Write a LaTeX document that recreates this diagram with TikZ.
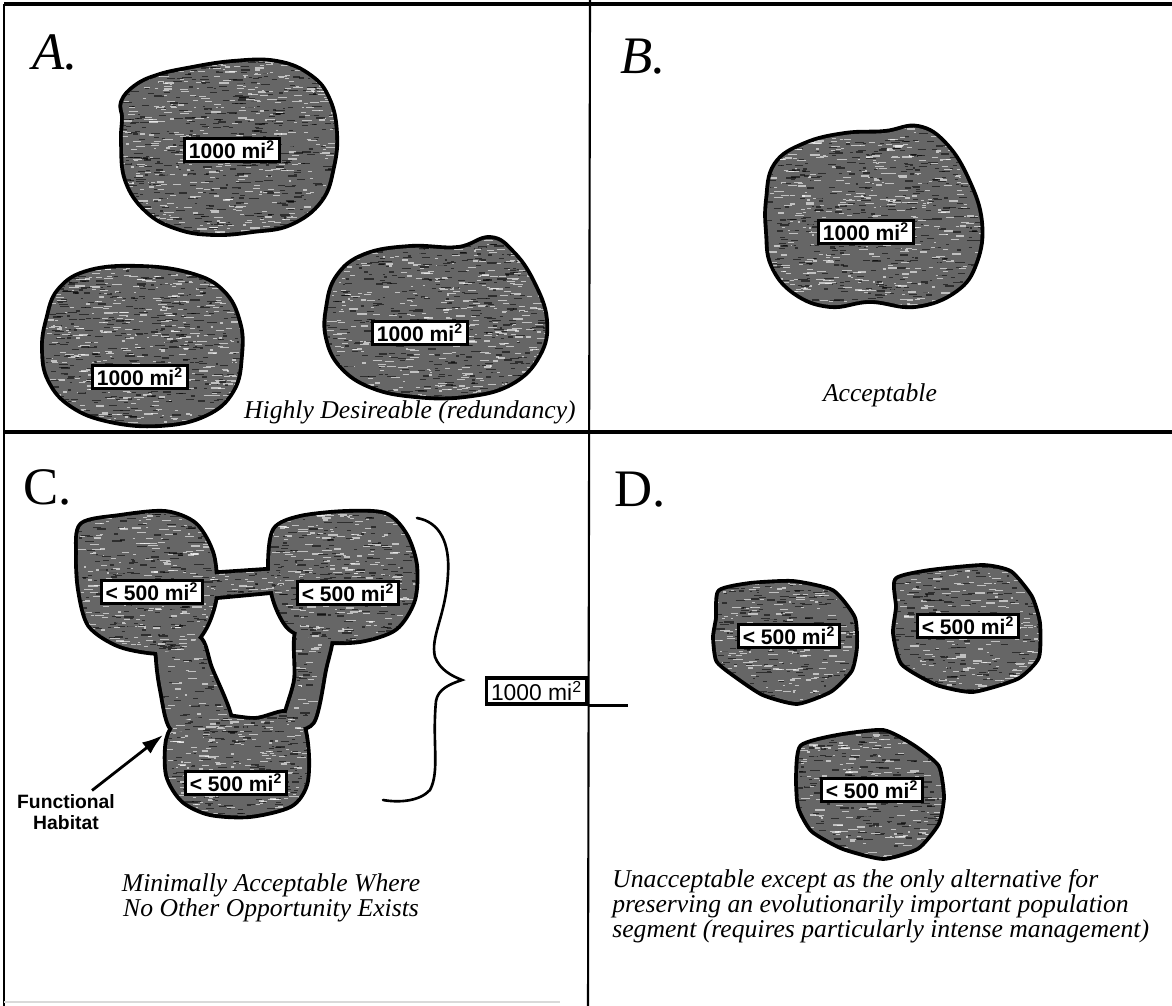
\documentclass[tikz,border=0pt]{standalone}
\usepackage{fontspec}
\setmainfont{Liberation Serif}
\setsansfont{Liberation Sans}
\usetikzlibrary{arrows.meta,calc}
\tikzset{
  thickrule/.style={line width=2.3pt},
  thinrule/.style={line width=1.2pt},
  blobedge/.style={line width=4.4pt, line join=round},
  blobbody/.style={fill=black!60},
  lightgrain/.style={white, opacity=0.6, line width=0.7pt},
  darkgrain/.style={black, opacity=0.55, line width=0.7pt},
  arealabel/.style={draw, line width=1.6pt, fill=white, inner xsep=2.5pt, inner ysep=1.5pt, font=\sffamily\bfseries\fontsize{12}{12}\selectfont},
  extlabel/.style={draw, line width=1.8pt, fill=white, inner xsep=2.5pt, inner ysep=2pt, font=\sffamily\fontsize{13}{13}\selectfont},
  panelletter/.style={font=\fontsize{30}{30}\selectfont, inner sep=0pt},
  captiontext/.style={font=\itshape\fontsize{14.6}{13.2}\selectfont, inner sep=0pt},
  braceline/.style={line width=1.5pt, line cap=round},
  pointer/.style={line width=1.6pt, -{Latex[length=12pt, width=8pt]}},
  smalllabel/.style={font=\sffamily\bfseries\fontsize{11}{11.5}\selectfont, align=center, inner sep=0pt},
}
\newcommand{\grainfill}[5]{%
  \foreach \gk in {1,...,#1}{%
    \pgfmathsetmacro{\grX}{#2+rnd*(#4-#2)}%
    \pgfmathsetmacro{\grY}{#3+rnd*(#5-#3)}%
    \pgfmathsetmacro{\grL}{2+rnd*8}%
    \draw[lightgrain] (\grX,\grY) -- ++(\grL,0);%
  }%
  \foreach \gk in {1,...,#1}{%
    \pgfmathsetmacro{\grX}{#2+rnd*(#4-#2)}%
    \pgfmathsetmacro{\grY}{#3+rnd*(#5-#3)}%
    \pgfmathsetmacro{\grL}{2+rnd*8}%
    \draw[darkgrain] (\grX,\grY) -- ++(\grL,0);%
  }%
}
\newcommand{\blobtexture}[6]{\begin{scope}\clip #1; \grainfill{#2}{#3}{#4}{#5}{#6}\end{scope}}
\begin{document}
\begin{tikzpicture}[x=0.02cm,y=-0.02cm]
\useasboundingbox (0,0) rectangle (1172,1006);
\fill[white] (0,0) rectangle (1172,1006);
\pgfmathsetseed{4242}

% ---------- shapes ----------
\def\shAa{plot[smooth cycle,tension=.7] coordinates {(123,102) (136,87) (157,77) (187,70) (233,63) (277,63) (310,77) (328,100) (335,133) (332,167) (320,200) (290,223) (253,230) (213,233) (177,227) (147,210) (127,180) (123,143) (124,118)}}
\def\shAb{plot[smooth cycle,tension=.7] coordinates {(48,320) (60,290) (90,272) (140,268) (190,275) (222,292) (238,322) (240,355) (232,390) (205,414) (160,424) (110,420) (72,405) (50,380) (44,350)}}
\def\shAc{plot[smooth cycle,tension=.7] coordinates {(328,308) (338,277) (365,256) (410,248) (458,249) (490,239) (512,253) (532,282) (545,320) (538,355) (510,383) (465,395) (415,395) (372,386) (342,366) (328,338)}}
\def\shB{plot[smooth cycle,tension=.7] coordinates {(768,200) (776,165) (805,145) (845,135) (885,133) (918,128) (945,145) (967,180) (980,222) (975,262) (955,290) (915,305) (870,300) (830,305) (795,292) (773,265) (768,232)}}
\def\shCa{plot[smooth cycle,tension=.5] coordinates {(82,525) (120,517) (165,513) (195,525) (212,555) (215,595) (206,625) (190,645) (160,652) (120,645) (90,625) (80,590) (78,555)}}
\def\shCb{plot[smooth cycle,tension=.5] coordinates {(275,530) (300,518) (345,513) (385,515) (405,535) (415,565) (413,600) (395,628) (360,640) (320,640) (290,628) (275,600) (270,565)}}
\def\shCbar{plot[sharp cycle] coordinates {(205,575) (280,570) (282,590) (207,597)}}
\def\shCl{plot[smooth cycle,tension=.5] coordinates {(160,640) (198,638) (210,668) (230,722) (200,730) (172,728) (162,690) (158,660)}}
\def\shCr{plot[smooth cycle,tension=.5] coordinates {(298,630) (330,632) (324,670) (312,722) (285,725) (296,680)}}
\def\shCc{plot[smooth cycle,tension=.5] coordinates {(168,740) (180,722) (215,716) (255,720) (285,713) (302,725) (307,755) (305,785) (290,805) (250,815) (210,813) (183,800) (168,775)}}
\def\shDa{plot[smooth cycle,tension=.35] coordinates {(720,592) (750,585) (793,583) (832,592) (853,618) (855,647) (850,670) (830,690) (797,702) (763,693) (733,673) (718,660) (715,637) (718,618)}}
\def\shDb{plot[smooth cycle,tension=.35] coordinates {(897,580) (930,572) (983,567) (1010,573) (1030,597) (1038,623) (1037,657) (1017,677) (973,690) (937,683) (903,663) (895,633) (898,607)}}
\def\shDc{plot[smooth cycle,tension=.35] coordinates {(802,747) (837,737) (883,732) (913,747) (937,767) (942,797) (937,823) (917,847) (883,857) (843,847) (813,830) (800,807) (798,777)}}

\foreach \s in {\shAa,\shAb,\shAc,\shB,\shCa,\shCb,\shCbar,\shCl,\shCr,\shCc,\shDa,\shDb,\shDc}{\draw[blobedge] \s;}
\foreach \s in {\shAa,\shAb,\shAc,\shB,\shCa,\shCb,\shCbar,\shCl,\shCr,\shCc,\shDa,\shDb,\shDc}{\fill[blobbody] \s;}

\blobtexture{\shAa}{500}{118}{60}{338}{235}
\blobtexture{\shAb}{440}{42}{266}{242}{426}
\blobtexture{\shAc}{440}{325}{236}{547}{397}
\blobtexture{\shB}{480}{766}{126}{982}{307}
\blobtexture{\shCa}{230}{76}{511}{217}{654}
\blobtexture{\shCb}{230}{268}{511}{417}{642}
\blobtexture{\shCbar}{30}{205}{568}{284}{599}
\blobtexture{\shCl}{40}{156}{636}{232}{732}
\blobtexture{\shCr}{30}{283}{628}{332}{727}
\blobtexture{\shCc}{200}{166}{711}{309}{817}
\blobtexture{\shDa}{200}{713}{581}{857}{704}
\blobtexture{\shDb}{200}{893}{565}{1040}{692}
\blobtexture{\shDc}{200}{796}{730}{944}{859}

% ---------- frame ----------
\draw[thickrule] (4,4) -- (1172,4);
\draw[thinrule] (4,4) -- (4,1006);
\draw[thinrule] (590,0) -- (588,1006);
\draw[thickrule] (4,432) -- (1172,432);
\draw[black!15, line width=1.5pt] (4,1002) -- (560,1002);

% ---------- panel letters ----------
\node[panelletter] (pA) at (55,52) {\itshape A.};
\node[panelletter] (pB) at (643,57) {\itshape B.};
\node[panelletter] (pC) at (48,487) {C.};
\node[panelletter] (pD) at (640,490) {D.};

% ---------- area labels ----------
\node[arealabel] (la1) at (232,150) {1000 mi\textsuperscript{2}};
\node[arealabel] (la2) at (140,377) {1000 mi\textsuperscript{2}};
\node[arealabel] (la3) at (420,333) {1000 mi\textsuperscript{2}};
\node[arealabel] (lb) at (866,232) {1000 mi\textsuperscript{2}};
\node[arealabel] (lc1) at (152,592) {< 500 mi\textsuperscript{2}};
\node[arealabel] (lc2) at (348,593) {< 500 mi\textsuperscript{2}};
\node[arealabel] (lc3) at (236,783) {< 500 mi\textsuperscript{2}};
\node[arealabel] (ld1) at (789,636) {< 500 mi\textsuperscript{2}};
\node[arealabel] (ld2) at (968,626) {< 500 mi\textsuperscript{2}};
\node[arealabel] (ld3) at (872,790) {< 500 mi\textsuperscript{2}};

% ---------- brace and total ----------
\coordinate (brtop) at (417,518);
\coordinate (brtip) at (462,680);
\coordinate (brbot) at (383,800);
\draw[braceline] (brtop) .. controls (440,522) and (450,543) .. (448,574)
  .. controls (446,616) and (430,636) .. (435,657)
  .. controls (440,670) and (452,676) .. (brtip)
  .. controls (450,684) and (438,689) .. (436,701)
  .. controls (432,743) and (440,771) .. (430,790)
  .. controls (420,801) and (400,803) .. (brbot);
\node[extlabel, anchor=east] (ext) at (588,691) {1000 mi\textsuperscript{2}};
\coordinate (extend) at ($(ext.south east)+(40,0)$);
\draw[line width=1.3pt] (ext.south east) -- (extend);

% ---------- functional habitat ----------
\node[smalllabel] (fh) at (66,812) {Functional\\Habitat};
\coordinate (legpt) at (163,735);
\draw[pointer] ($(fh.north)+(26,-4)$) -- (legpt);

% ---------- captions ----------
\node[captiontext, anchor=east] (capA) at (576,412) {Highly Desireable (redundancy)};
\node[captiontext] (capB) at (880,395) {Acceptable};
\node[captiontext, align=center] (capC) at (271,898) {Minimally Acceptable Where\\No Other Opportunity Exists};
\node[captiontext, align=left, anchor=west] (capD) at (612,906) {Unacceptable except as the only alternative for\\preserving an evolutionarily important population\\segment (requires particularly intense management)};
\end{tikzpicture}
\end{document}
